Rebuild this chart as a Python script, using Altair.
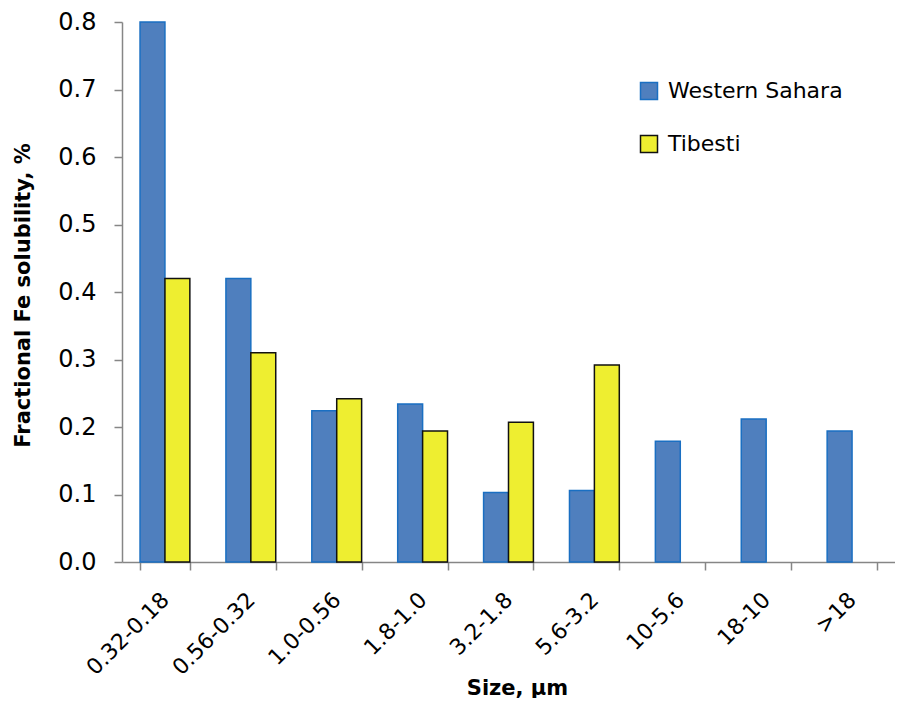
import altair as alt
import pandas as pd

categories = ["0.32-0.18", "0.56-0.32", "1.0-0.56", "1.8-1.0", "3.2-1.8",
              "5.6-3.2", "10-5.6", "18-10", ">18"]
western_sahara = [0.80, 0.42, 0.224, 0.234, 0.103, 0.106, 0.179, 0.212, 0.194]
tibesti = [0.42, 0.31, 0.242, 0.194, 0.207, 0.292, None, None, None]
series_names = ["Western Sahara", "Tibesti"]
fill_colors = ["#4F7FBE", "#EEEE30"]
stroke_colors = ["#1A6FC2", "#111111"]
y_ticks = [0.0, 0.1, 0.2, 0.3, 0.4, 0.5, 0.6, 0.7, 0.8]

rows = []
for cat, v in zip(categories, western_sahara):
    if v is not None:
        rows.append({"size": cat, "series": "Western Sahara", "value": v})
for cat, v in zip(categories, tibesti):
    if v is not None:
        rows.append({"size": cat, "series": "Tibesti", "value": v})
df = pd.DataFrame(rows)

FONT = "DejaVu Sans"
GRAY = "#868686"

legend_cfg = dict(
    title=None, orient="none", legendX=516, legendY=58,
    symbolType="square", symbolSize=289, symbolStrokeWidth=1.5,
    symbolOpacity=1, labelFont=FONT, labelFontSize=22, labelColor="black",
    labelOffset=8, labelLimit=0, rowPadding=29, padding=0,
)

chart = alt.Chart(df).mark_bar(strokeWidth=1.5, opacity=1).encode(
    x=alt.X("size:N", sort=categories,
            scale=alt.Scale(domain=categories, paddingInner=0.42, paddingOuter=0.21),
            axis=alt.Axis(title="Size, µm", labelAngle=-45, labelAlign="right",
                          labelBaseline="middle", labelPadding=26, labelFontSize=22,
                          labelFont=FONT, labelColor="black", labelOverlap=False,
                          labelLimit=0, tickBand="extent", tickSize=8,
                          tickColor=GRAY, tickWidth=1.5, domainColor=GRAY,
                          domainWidth=1.5, titleFont=FONT, titleFontSize=21,
                          titleFontWeight="bold", titleColor="black",
                          titleX=395, titleY=132, titleBaseline="alphabetic",
                          titleAlign="center")),
    xOffset=alt.XOffset("series:N", sort=series_names,
                        scale=alt.Scale(domain=series_names, paddingInner=0, paddingOuter=0)),
    y=alt.Y("value:Q", scale=alt.Scale(domain=[0, 0.8], nice=False, zero=True),
            axis=alt.Axis(values=y_ticks, format=".1f", grid=False,
                          title="Fractional Fe solubility, %", labelFont=FONT,
                          labelFontSize=24, labelColor="black", labelPadding=18,
                          tickSize=8, tickColor=GRAY, tickWidth=1.5,
                          domainColor=GRAY, domainWidth=1.5,
                          titleFont=FONT, titleFontSize=21, titleFontWeight="bold",
                          titleColor="black", titleAngle=270, titleX=-99, titleY=273,
                          titleAlign="center", titleBaseline="middle")),
    color=alt.Color("series:N", scale=alt.Scale(domain=series_names, range=fill_colors),
                    legend=alt.Legend(**legend_cfg)),
    stroke=alt.Stroke("series:N", scale=alt.Scale(domain=series_names, range=stroke_colors),
                      legend=alt.Legend(**legend_cfg)),
).properties(
    width=773, height=540,
    padding={"left": 114, "top": 14, "right": 0, "bottom": 136},
    autosize=alt.AutoSizeParams(type="none"),
    background="white",
).configure_view(stroke=None)

chart.save("out.html", embed_options={"renderer": "svg", "actions": False})
